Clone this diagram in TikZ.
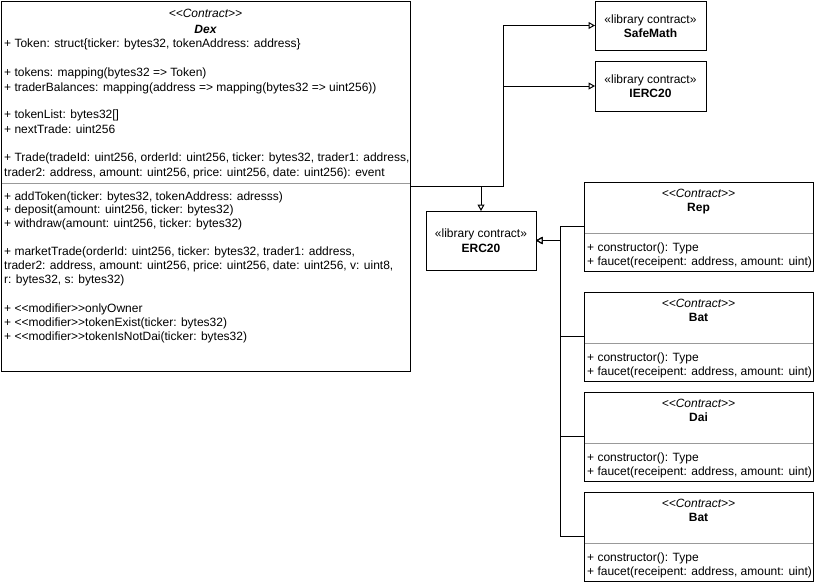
\documentclass[tikz,border=0pt]{standalone}
\usepackage{fontspec}
\setmainfont{Liberation Sans}
\usetikzlibrary{arrows.meta}
\newcommand\myLL{<\kern0pt<}
\newcommand\myRR{>\kern0pt>}
\tikzset{
  umlbox/.style={draw=black, line width=1pt, fill=white, inner sep=0pt, outer sep=0pt, anchor=north west},
  sepline/.style={draw=black!40, line width=1pt},
  txt/.style={anchor=base west, inner sep=0pt, font=\fontsize{12}{14}\selectfont},
  ctxt/.style={anchor=base, inner sep=0pt, font=\fontsize{12}{14}\selectfont},
  stereo/.style={ctxt, font=\fontsize{12}{14}\selectfont\itshape},
  gen/.style={draw=black, line width=1pt, -{Triangle[open, length=6.5pt, width=7pt, fill=white]}},
}
\newcommand\contractbox[3]{%
  \node[umlbox, minimum width=229pt, minimum height=89pt] (#1) at (584,#2) {};
  \draw[sepline] (584.5,{#2+51}) -- (812.5,{#2+51});
  \node[stereo] (#1st) at (698.5,{#2+15}) {\myLL Contract\myRR};
  \node[ctxt, font=\fontsize{12}{14}\selectfont\bfseries] (#1nm) at (698.5,{#2+29}) {#3};
  \node[txt] (#1a) at (587,{#2+69}) {+ constructor(): Type};
  \node[txt] (#1b) at (587,{#2+83}) {+ faucet(receipent: address, amount: uint)};
}
\begin{document}
\begin{tikzpicture}[x=1pt, y=-1pt]
\useasboundingbox[fill=white] (0,0) rectangle (815,582);

% Dex
\node[umlbox, minimum width=409pt, minimum height=370pt] (dex) at (1,1) {};
\draw[sepline] (1.5,183) -- (409.5,183);
\node[stereo] (dexst) at (205.5,17) {\myLL Contract\myRR};
\node[ctxt, font=\fontsize{12}{14}\selectfont\bfseries\itshape] (dexnm) at (205.5,33) {Dex};
\node[txt] (d1) at (4,47.5) {+ Token: struct\{ticker: bytes32, tokenAddress: address\}};
\node[txt] (d2) at (4,76.5) {+ tokens: mapping(bytes32 => Token)};
\node[txt] (d3) at (4,91) {+ traderBalances: mapping(address => mapping(bytes32 => uint256))};
\node[txt] (d4) at (4,118) {+ tokenList: bytes32[]};
\node[txt] (d5) at (4,133) {+ nextTrade: uint256};
\node[txt] (d6) at (4,161.5) {+ Trade(tradeId: uint256, orderId: uint256, ticker: bytes32, trader1: address,};
\node[txt] (d7) at (4,176.5) {trader2: address, amount: uint256, price: uint256, date: uint256): event};
\node[txt] (d8) at (4,200) {+ addToken(ticker: bytes32, tokenAddress: adresss)};
\node[txt] (d9) at (4,213.5) {+ deposit(amount: uint256, ticker: bytes32)};
\node[txt] (d10) at (4,227.5) {+ withdraw(amount: uint256, ticker: bytes32)};
\node[txt] (d11) at (4,255) {+ marketTrade(orderId: uint256, ticker: bytes32, trader1: address,};
\node[txt] (d12) at (4,269) {trader2: address, amount: uint256, price: uint256, date: uint256, v: uint8,};
\node[txt] (d13) at (4,283) {r: bytes32, s: bytes32)};
\node[txt] (d14) at (4,312) {+ \myLL modifier\myRR onlyOwner};
\node[txt] (d15) at (4,326) {+ \myLL modifier\myRR tokenExist(ticker: bytes32)};
\node[txt] (d16) at (4,340) {+ \myLL modifier\myRR tokenIsNotDai(ticker: bytes32)};

% library contracts
\node[umlbox, minimum width=111pt, minimum height=49pt] (safemath) at (595,1) {};
\node[ctxt] (smst) at (650.5,23) {«library contract»};
\node[ctxt, font=\fontsize{12}{14}\selectfont\bfseries] (smnm) at (650.5,37) {SafeMath};

\node[umlbox, minimum width=111pt, minimum height=50pt] (ierc) at (595,61) {};
\node[ctxt] (iest) at (650.5,83) {«library contract»};
\node[ctxt, font=\fontsize{12}{14}\selectfont\bfseries] (ienm) at (650.5,97) {IERC20};

\node[umlbox, minimum width=110pt, minimum height=59pt] (erc) at (426,211) {};
\node[ctxt] (erst) at (481,237) {«library contract»};
\node[ctxt, font=\fontsize{12}{14}\selectfont\bfseries] (ernm) at (481,252.5) {ERC20};

% token contracts
\contractbox{rep}{182}{Rep}
\contractbox{bata}{292}{Bat}
\contractbox{dai}{392}{Dai}
\contractbox{batb}{492}{Bat}

% connectors
\coordinate (jx) at (503,0);
\coordinate (jy) at (560,0);
\draw[gen] (dex.east) -| (jx |- safemath.west) -- (safemath.west);
\draw[gen] (dex.east) -| (jx |- ierc.west) -- (ierc.west);
\draw[gen] (dex.east) -| (erc.north);
\draw[gen] (rep.west) -- (rep.west -| jy) |- (erc.east);
\draw[gen] (bata.west) -- (bata.west -| jy) |- (erc.east);
\draw[gen] (dai.west) -- (dai.west -| jy) |- (erc.east);
\draw[gen] (batb.west) -- (batb.west -| jy) |- (erc.east);
\end{tikzpicture}
\end{document}
